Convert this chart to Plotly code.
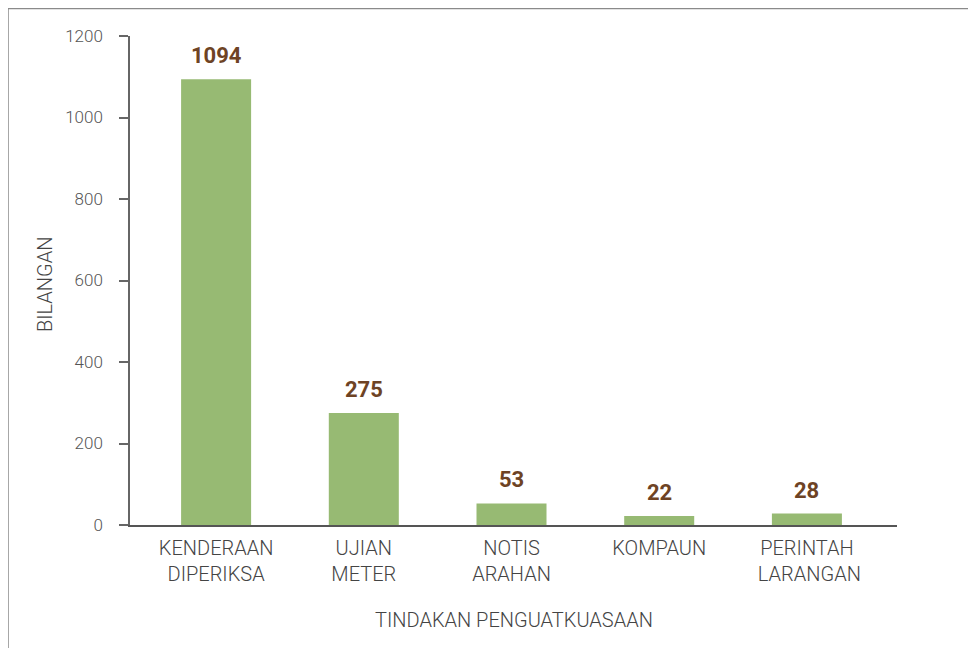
import plotly.graph_objects as go

categories = ["KENDERAAN<br>DIPERIKSA", "UJIAN<br>METER", "NOTIS<br>ARAHAN", "KOMPAUN", "PERINTAH<br> LARANGAN"]
values = [1094, 275, 53, 22, 28]
labels = ["1094", "275", "53", "22", "28"]
y_ticks = [0, 200, 400, 600, 800, 1000, 1200]

# page body has an 8px margin; figure coordinates are reference minus 8
W, H = 968, 640
L, R, T, B = 122, 889, 28, 517

x_idx = list(range(len(categories)))

fig = go.Figure()
fig.add_trace(go.Bar(
    x=x_idx,
    y=values,
    marker=dict(color="#97BA73", line=dict(width=0)),
    width=0.474,
    hoverinfo="x+y",
))

annotations = [
    dict(x=xi, y=v, text=t, xref="x", yref="y", showarrow=False,
         xanchor="center", yanchor="bottom", yshift=9,
         font=dict(family="Roboto", size=22, color="#6E4324", weight="bold"))
    for xi, v, t in zip(x_idx, values, labels)
]
annotations += [
    dict(text="TINDAKAN PENGUATKUASAAN", xref="paper", yref="paper",
         x=(506 - L) / (R - L), y=(B - 612) / (B - T), xanchor="center", yanchor="middle",
         showarrow=False, font=dict(size=20, color="#444444", weight=300)),
    dict(text="BILANGAN", xref="paper", yref="paper", textangle=-90,
         x=(37 - L) / (R - L), y=(B - 277) / (B - T), xanchor="center", yanchor="middle",
         showarrow=False, font=dict(size=20, color="#444444", weight=300)),
]

fig.update_layout(
    width=W, height=H,
    margin=dict(l=L, r=W - R, t=T, b=H - B, pad=0),
    plot_bgcolor="white", paper_bgcolor="white",
    showlegend=False,
    font=dict(family="Roboto", color="#555555"),
    xaxis=dict(
        tickmode="array", tickvals=x_idx, ticktext=categories,
        range=[-0.583, 4.61], showgrid=False, zeroline=False,
        showline=True, linecolor="#555555", linewidth=1.5, ticks="",
        tickfont=dict(size=20, color="#444444", weight=300),
        ticklabelstandoff=4,
    ),
    yaxis=dict(
        tickmode="array", tickvals=y_ticks,
        range=[0, 1200], showgrid=False, zeroline=False,
        showline=True, linecolor="#666666", linewidth=1.5,
        ticks="outside", ticklen=9, tickcolor="#666666", tickwidth=1.5,
        tickfont=dict(size=17, color="#555555", weight=300),
        ticklabelstandoff=13,
    ),
    shapes=[dict(type="rect", xref="paper", yref="paper",
                 x0=(0.0 - L) / (R - L), x1=2, y0=-1, y1=(B - 0.5) / (B - T),
                 line=dict(color="#8a8a8a", width=1.5), fillcolor="rgba(0,0,0,0)", layer="below")],
    annotations=annotations,
)

fig.write_html("out.html")
